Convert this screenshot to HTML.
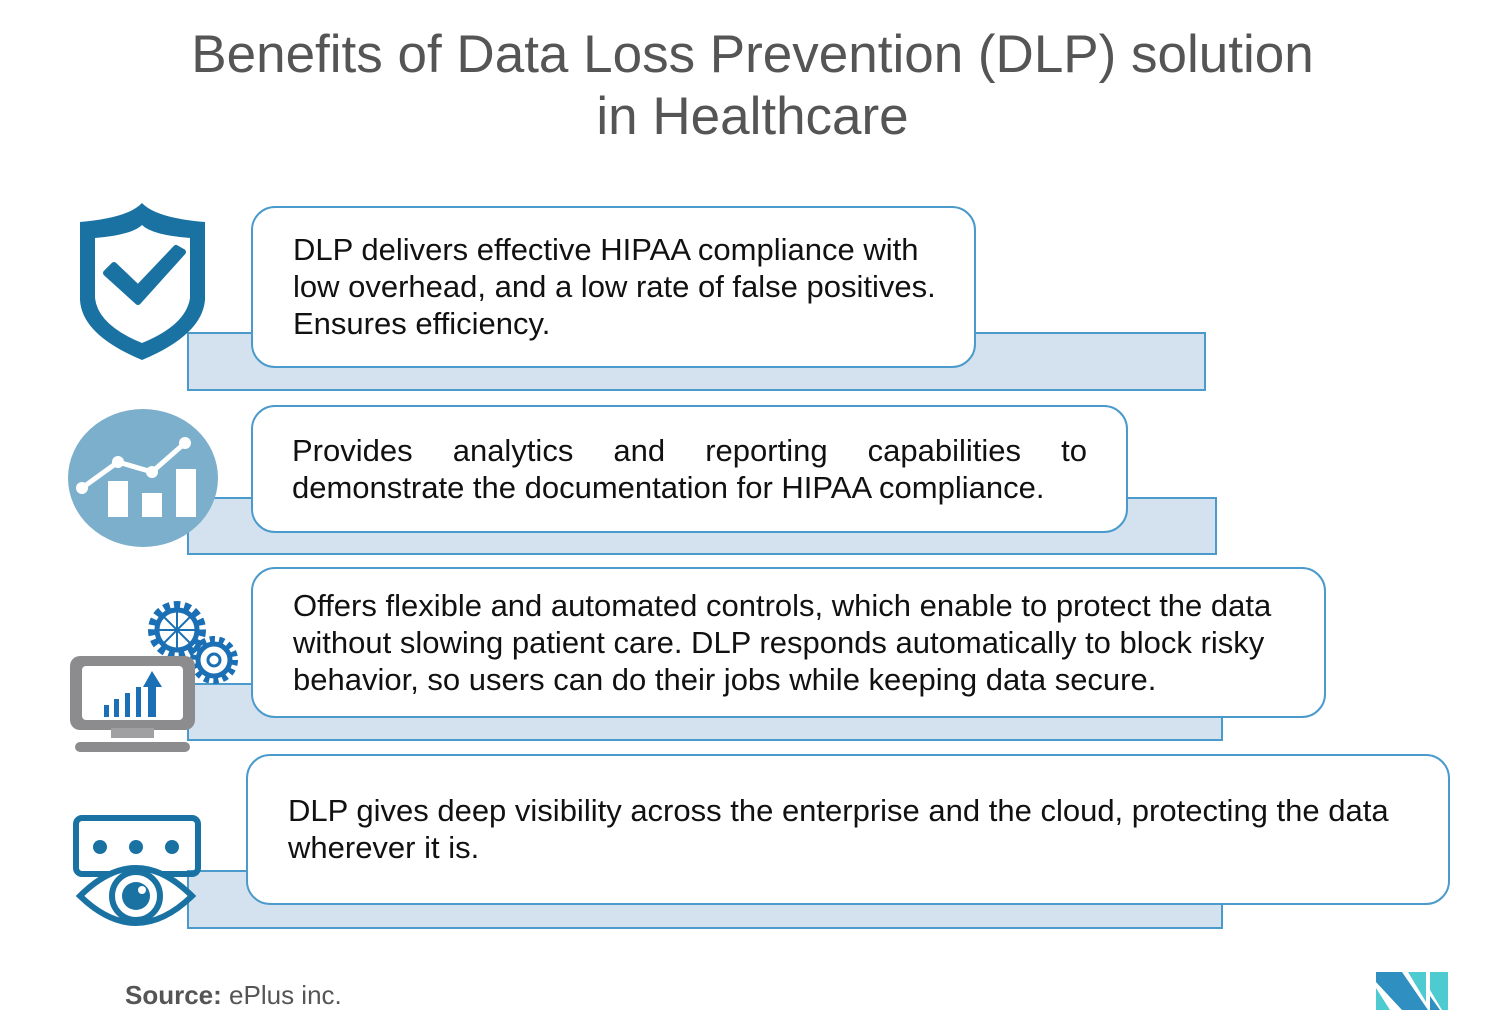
<!DOCTYPE html>
<html><head><meta charset="utf-8">
<style>
body{margin:0;width:1505px;height:1031px;background:#fff;position:relative;overflow:hidden;font-family:"Liberation Sans",sans-serif;}
.t{position:absolute;left:0;width:1505px;text-align:center;color:#555;font-size:53px;line-height:62px;top:24px;}
.r{position:absolute;background:#d4e2ef;border:2px solid #4a9acb;box-sizing:border-box;}
.b{position:absolute;background:#fff;border:2px solid #4a9acb;border-radius:24px;box-sizing:border-box;}
.x{position:absolute;font-size:31px;line-height:37px;color:#111;white-space:nowrap;}
.src{position:absolute;left:125px;top:980px;font-size:26px;color:#555;}
</style></head><body>
<div class="t">Benefits of Data Loss Prevention (DLP) solution<br>in Healthcare</div>

<div class="r" style="left:187px;top:332px;width:1019px;height:59px"></div>
<div class="b" style="left:251px;top:206px;width:725px;height:162px"></div>
<div class="x" style="left:293px;top:231px">DLP delivers effective HIPAA compliance with<br>low overhead, and a low rate of false positives.<br>Ensures efficiency.</div>

<div class="r" style="left:187px;top:497px;width:1030px;height:58px"></div>
<div class="b" style="left:251px;top:405px;width:877px;height:128px"></div>
<div class="x" style="left:292px;top:432px;width:795px;text-align:justify;text-align-last:justify;word-spacing:0">Provides analytics and reporting capabilities to</div>
<div class="x" style="left:292px;top:469px">demonstrate the documentation for HIPAA compliance.</div>

<div class="r" style="left:187px;top:683px;width:1036px;height:58px"></div>
<div class="b" style="left:251px;top:567px;width:1075px;height:151px"></div>
<div class="x" style="left:293px;top:587px">Offers flexible and automated controls, which enable to protect the data<br>without slowing patient care. DLP responds automatically to block risky<br>behavior, so users can do their jobs while keeping data secure.</div>

<div class="r" style="left:187px;top:870px;width:1036px;height:59px"></div>
<div class="b" style="left:246px;top:754px;width:1204px;height:151px"></div>
<div class="x" style="left:288px;top:792px">DLP gives deep visibility across the enterprise and the cloud, protecting the data<br>wherever it is.</div>

<svg style="position:absolute;left:0;top:0" width="260" height="960">
<path d="M142,203 Q128,218 80,222 L80,300 Q82,335 142,360 Q202,335 205,300 L205,222 Q156,218 142,203Z" fill="#1a72a3"/>
<path d="M142,225 Q132,235 95,238 L95,298 Q98,325 142,343 Q186,325 190,298 L190,238 Q152,235 142,225Z" fill="#fff"/>
<path d="M106,273 L138,302 L183,252 L176,248 L138,288 L114,265Z" fill="#1a72a3" stroke="#1a72a3" stroke-width="6" stroke-linejoin="round"/>
<ellipse cx="143" cy="478" rx="75" ry="69" fill="#7cafcb"/>
<rect x="108" y="481" width="20" height="36" fill="#fff"/>
<rect x="142" y="493" width="20" height="24" fill="#fff"/>
<rect x="176" y="469" width="20" height="48" fill="#fff"/>
<polyline points="82,488 118,462 152,472 185,443" fill="none" stroke="#fff" stroke-width="5"/>
<circle cx="82" cy="488" r="6" fill="#fff"/><circle cx="118" cy="462" r="6" fill="#fff"/><circle cx="152" cy="472" r="6" fill="#fff"/><circle cx="185" cy="443" r="6" fill="#fff"/>
<circle cx="177" cy="630" r="24" fill="none" stroke="#1a6fb5" stroke-width="10" stroke-dasharray="6 4"/>
<circle cx="177" cy="630" r="20" fill="none" stroke="#1a6fb5" stroke-width="5"/>
<path d="M157,630 H197 M177,610 V650 M163,616 L191,644 M191,616 L163,644" stroke="#1a6fb5" stroke-width="2"/>
<circle cx="214" cy="660" r="20" fill="none" stroke="#1a6fb5" stroke-width="8" stroke-dasharray="5 4"/>
<circle cx="214" cy="660" r="16" fill="none" stroke="#1a6fb5" stroke-width="5"/>
<circle cx="214" cy="660" r="6" fill="none" stroke="#1a6fb5" stroke-width="3"/>
<rect x="70" y="656" width="125" height="74" rx="10" fill="#8c8c8e"/>
<rect x="82" y="666" width="101" height="54" rx="4" fill="#fff"/>
<rect x="111" y="728" width="43" height="10" fill="#a0a0a2"/>
<rect x="75" y="742" width="115" height="10" rx="5" fill="#8c8c8e"/>
<rect x="104" y="705" width="5" height="12" fill="#1a6fb5"/><rect x="114" y="699" width="5" height="18" fill="#1a6fb5"/><rect x="125" y="693" width="5" height="24" fill="#1a6fb5"/><rect x="136" y="687" width="5" height="30" fill="#1a6fb5"/>
<rect x="148" y="685" width="8" height="32" fill="#1a6fb5"/><path d="M143,687 L152,671 L162,687Z" fill="#1a6fb5"/>
<rect x="76" y="818" width="122" height="56" rx="6" fill="none" stroke="#1a72a3" stroke-width="6"/>
<circle cx="100" cy="847" r="7" fill="#1a72a3"/><circle cx="136" cy="847" r="7" fill="#1a72a3"/><circle cx="172" cy="847" r="7" fill="#1a72a3"/>
<path d="M80,896 Q136,840 192,896 Q136,950 80,896Z" fill="#fff" stroke="#1a72a3" stroke-width="6"/>
<circle cx="136" cy="896" r="24" fill="none" stroke="#1a72a3" stroke-width="6"/>
<circle cx="136" cy="896" r="14" fill="#1a72a3"/><circle cx="142" cy="890" r="4" fill="#fff"/>
</svg>

<div class="src"><b>Source:</b> ePlus inc.</div>
<svg style="position:absolute;left:1374px;top:972px" width="76" height="40">
<polygon points="2,0 28,0 54,38 28,38 2,10" fill="#2e8fc0"/>
<polygon points="2,16 16,38 2,38" fill="#4ecbd0"/>
<polygon points="34,0 52,0 52,30" fill="#4ecbd0"/>
<polygon points="56,0 74,0 74,38 68,38 56,18" fill="#4ecbd0"/>
<polygon points="56,24 66,38 56,38" fill="#2e8fc0"/>
</svg>
</body></html>
